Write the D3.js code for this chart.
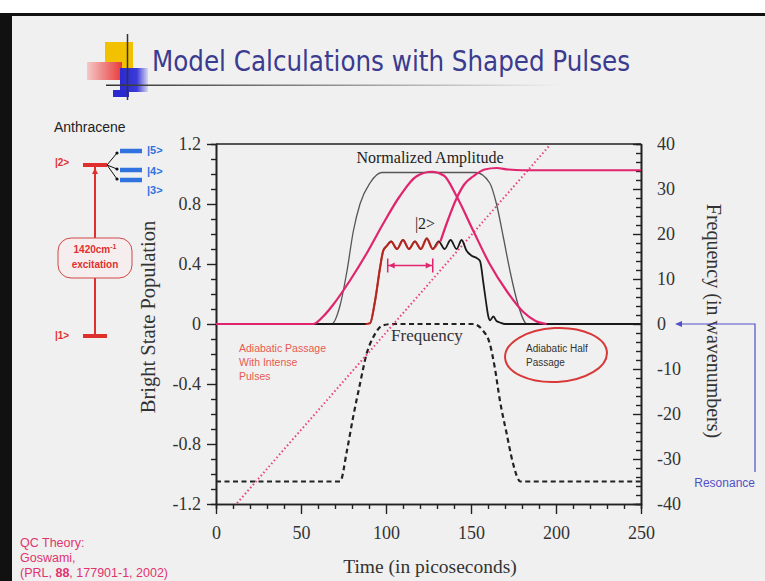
<!DOCTYPE html>
<html>
<head>
<meta charset="utf-8">
<title>Model Calculations with Shaped Pulses</title>
<script src="https://d3js.org/d3.v7.min.js"></script>
<style>
  body { margin: 0; background: #fff; }
  svg text { font-family: 'Liberation Serif', 'Times New Roman', serif; }
  svg .sans { font-family: 'Liberation Sans', Arial, sans-serif; }
</style>
</head>
<body>
<div id="chart"></div>
<script>
// values, time in picoseconds
var amplitude = [[0,0],[68,0],[73,0.125],[77,0.35],[80.8,0.62],[84.7,0.8],[90.6,0.94],[97.5,1.01],
  [153,1.01],[161,0.94],[165,0.8],[169,0.58],[173,0.35],[177.8,0.125],[183,0],[250,0]];

var pulse1 = [[0,0],[57,0],[63,0.05],[69,0.13],[78.8,0.29],[88.6,0.47],[98.4,0.67],[108,0.85],
  [118,0.985],[127,1.015],[134,0.99],[141.6,0.85],[151.4,0.62],[161,0.4],[171,0.22],[180.8,0.08],[188,0.02],[194.5,0]];

var pulse2 = [[132,0.55],[136,0.68],[141.6,0.84],[146,0.93],[151.4,0.985],[158,1.03],[165,1.04],
  [172,1.03],[180,1.025],[250,1.025]];

var population = [[0,0],[88,0],[90.6,0.005],[93.5,0.15],[96.5,0.375],[98.4,0.49],[100.4,0.52],
  [103,0.55],[106.5,0.5],[110,0.56],[113.5,0.5],[117,0.55],[120.5,0.5],[124,0.57],[127.5,0.5],
  [131,0.55],[134.5,0.5],[138,0.56],[141.5,0.5],[144.5,0.56],[147.3,0.49],[150.4,0.455],[153.3,0.44],
  [155.3,0.42],[157.2,0.28],[158.8,0.15],[160.2,0.05],[161.2,0.025],[163.2,0.05],[165,0.02],
  [167,0.01],[170,0],[250,0]];

// frequency in wavenumbers (right axis)
var frequency = [[0,-35],[73,-35],[77,-28.2],[80.6,-20.8],[84.7,-13.3],[88.6,-6.6],[92.4,-3],
  [98.2,-0.3],[104,0],[151,0],[157,-1.45],[161,-4.3],[164,-9.7],[167,-17],[171,-24.4],
  [174.8,-31.1],[179,-35],[250,-35]];

var chirp = [[12.4,-39.8],[196.5,39.8]];

var timeTicks = [0, 50, 100, 150, 200, 250];
var popTicks = [-1.2, -0.8, -0.4, 0, 0.4, 0.8, 1.2];
var freqTicks = [-40, -30, -20, -10, 0, 10, 20, 30, 40];

var W = 765, H = 581;
var svg = d3.select("#chart").append("svg").attr("width", W).attr("height", H);

// slide background and frame
svg.append("rect").attr("width", W).attr("height", H).attr("fill", "#fff");
svg.append("rect").attr("x", 0).attr("y", 15).attr("width", W).attr("height", H - 15).attr("fill", "#f0f0f0");
svg.append("rect").attr("x", 0).attr("y", 13).attr("width", W).attr("height", 3).attr("fill", "#111");
svg.append("rect").attr("x", 0).attr("y", 13).attr("width", 12).attr("height", H - 13).attr("fill", "#111");

// logo
var grad = svg.append("defs");
var rg = grad.append("linearGradient").attr("id", "redg");
rg.append("stop").attr("offset", "0").attr("stop-color", "#f4c8c8");
rg.append("stop").attr("offset", "1").attr("stop-color", "#e83a3a");
var bg = grad.append("linearGradient").attr("id", "blueg");
bg.append("stop").attr("offset", "0").attr("stop-color", "#2a2ad0");
bg.append("stop").attr("offset", "0.6").attr("stop-color", "#3a3ad8");
bg.append("stop").attr("offset", "1").attr("stop-color", "#d8d8f0");
var hg = grad.append("linearGradient").attr("id", "lineg");
hg.append("stop").attr("offset", "0").attr("stop-color", "#333");
hg.append("stop").attr("offset", "1").attr("stop-color", "#f0f0f0");

svg.append("rect").attr("x", 105).attr("y", 42).attr("width", 28).attr("height", 27).attr("fill", "#f2c200");
svg.append("rect").attr("x", 87).attr("y", 62).attr("width", 35).attr("height", 18).attr("fill", "url(#redg)");
svg.append("rect").attr("x", 120).attr("y", 68).attr("width", 28).attr("height", 24).attr("fill", "url(#blueg)");
svg.append("rect").attr("x", 113).attr("y", 90).attr("width", 16).attr("height", 7).attr("fill", "#2a2ad0");
svg.append("line").attr("x1", 127.5).attr("x2", 127.5).attr("y1", 34).attr("y2", 100).attr("stroke", "#333").attr("stroke-width", 1.5);
svg.append("rect").attr("x", 106).attr("y", 84.5).attr("width", 455).attr("height", 1.5).attr("fill", "url(#lineg)");

svg.append("text").attr("class", "sans")
  .attr("x", 152).attr("y", 71)
  .attr("textLength", 478).attr("lengthAdjust", "spacingAndGlyphs")
  .style("font-family", "'Liberation Sans Narrow', 'DejaVu Sans Condensed', 'Liberation Sans', sans-serif")
  .attr("font-size", 28).attr("fill", "#3b3b8f")
  .text("Model Calculations with Shaped Pulses");

// energy level sketch
svg.append("text").attr("class", "sans").attr("x", 54).attr("y", 132)
  .attr("font-size", 14).attr("fill", "#222").text("Anthracene");
var red = "#e0302e", blue = "#2f72e0";
svg.append("line").attr("x1", 95).attr("x2", 95).attr("y1", 166).attr("y2", 336).attr("stroke", red).attr("stroke-width", 2);
svg.append("path").attr("d", "M95,168 l-3,6 l6,0 z").attr("fill", red);
svg.append("line").attr("x1", 83).attr("x2", 107).attr("y1", 165).attr("y2", 165).attr("stroke", red).attr("stroke-width", 4);
svg.append("line").attr("x1", 83).attr("x2", 107).attr("y1", 336).attr("y2", 336).attr("stroke", red).attr("stroke-width", 4);
svg.append("text").attr("class", "sans").attr("x", 55).attr("y", 166).attr("font-size", 10).attr("font-weight", "bold").attr("fill", red).text("|2>");
svg.append("text").attr("class", "sans").attr("x", 55).attr("y", 339).attr("font-size", 10).attr("font-weight", "bold").attr("fill", red).text("|1>");
svg.append("rect").attr("x", 58).attr("y", 238).attr("width", 74).attr("height", 40).attr("rx", 13)
  .attr("fill", "#f6eeee").attr("stroke", "#d04848").attr("stroke-width", 1);
var ex = svg.append("text").attr("class", "sans").attr("x", 95).attr("y", 253).attr("text-anchor", "middle")
  .attr("font-size", 10).attr("font-weight", "bold").attr("fill", red);
ex.append("tspan").text("1420cm");
ex.append("tspan").attr("dy", -4).attr("font-size", 7).text("-1");
svg.append("text").attr("class", "sans").attr("x", 95).attr("y", 268).attr("text-anchor", "middle")
  .attr("font-size", 10).attr("font-weight", "bold").attr("fill", red).text("excitation");

[[151, "|5>", 154], [170, "|4>", 175], [180, "|3>", 194]].forEach(function(l) {
  svg.append("line").attr("x1", 120).attr("x2", 142).attr("y1", l[0]).attr("y2", l[0]).attr("stroke", blue).attr("stroke-width", 4.5);
  svg.append("text").attr("class", "sans").attr("x", 147).attr("y", l[2]).attr("font-size", 11)
    .attr("font-weight", "bold").attr("fill", blue).text(l[1]);
  svg.append("line").attr("x1", 107).attr("y1", 165).attr("x2", 117).attr("y2", l[0] + (l[0] < 165 ? 2 : -1))
    .attr("stroke", "#111").attr("stroke-width", 1);
  svg.append("circle").attr("cx", 117).attr("cy", l[0] + (l[0] < 165 ? 2 : -1)).attr("r", 1.6).attr("fill", "#111");
});

// chart scales
var x = d3.scaleLinear().domain([0, 250]).range([216, 641]);
var yL = d3.scaleLinear().domain([-1.2, 1.2]).range([504, 144]);
var yR = d3.scaleLinear().domain([-40, 40]).range([504, 144]);

var ink = "#222";
var plain = function(d) { return String(d); };

// left axis
var gl = svg.append("g").attr("transform", "translate(216,0)");
gl.call(d3.axisLeft(yL).tickValues(popTicks).tickSize(9).tickPadding(6).tickSizeOuter(0).tickFormat(plain));
gl.append("g").call(d3.axisLeft(yL).tickValues(d3.range(-11, 12).filter(function(k) { return k % 4 !== 0; }).map(function(k) { return k / 10; }))
  .tickSize(5).tickFormat(""));

// right axis
var gr = svg.append("g").attr("transform", "translate(641,0)");
gr.call(d3.axisRight(yR).tickValues(freqTicks).tickSize(-8).tickPadding(16).tickSizeOuter(0).tickFormat(plain));
gr.append("g").call(d3.axisRight(yR).tickValues(d3.range(-38, 40, 2).filter(function(v) { return v % 10 !== 0; }))
  .tickSize(-5).tickFormat(""));

// bottom axis
var gb = svg.append("g").attr("transform", "translate(0,504)");
gb.call(d3.axisBottom(x).tickValues(timeTicks).tickSize(10).tickPadding(12).tickSizeOuter(0).tickFormat(plain));
gb.append("g").call(d3.axisBottom(x).tickValues(d3.range(10, 250, 10).filter(function(v) { return v % 50 !== 0; }))
  .tickSize(5).tickFormat(""));

svg.append("line").attr("x1", 216).attr("x2", 641).attr("y1", 144).attr("y2", 144).attr("stroke", ink).attr("stroke-width", 1.6);

svg.selectAll(".domain").attr("stroke", ink).attr("stroke-width", 1.6);
svg.selectAll(".tick line").attr("stroke", ink).attr("stroke-width", 1.4);
svg.selectAll(".tick text").attr("font-size", 18).attr("fill", "#333")
  .style("font-family", "'Liberation Serif', serif");

// axis titles
svg.append("text").attr("transform", "translate(155,317) rotate(-90)").attr("text-anchor", "middle")
  .attr("font-size", 20.5).attr("fill", "#333").text("Bright State Population");
svg.append("text").attr("transform", "translate(707,321) rotate(90)").attr("text-anchor", "middle")
  .attr("font-size", 20).attr("fill", "#333").text("Frequency (in wavenumbers)");
svg.append("text").attr("x", 430).attr("y", 573).attr("text-anchor", "middle")
  .attr("font-size", 19.5).attr("fill", "#333").text("Time (in picoseconds)");

// curves
var lineL = d3.line().x(function(d) { return x(d[0]); }).y(function(d) { return yL(d[1]); }).curve(d3.curveMonotoneX);
var lineR = d3.line().x(function(d) { return x(d[0]); }).y(function(d) { return yR(d[1]); }).curve(d3.curveMonotoneX);
var magenta = "#e0246e";

svg.append("defs").append("clipPath").attr("id", "plot").append("rect")
  .attr("x", 216).attr("y", 144).attr("width", 425).attr("height", 360);
var plot = svg.append("g").attr("clip-path", "url(#plot)");

plot.append("path").attr("d", lineR(frequency)).attr("fill", "none").attr("stroke", ink)
  .attr("stroke-width", 2.2).attr("stroke-dasharray", "5,3.5");
plot.append("path").attr("d", lineR(chirp)).attr("fill", "none").attr("stroke", "#e8407e")
  .attr("stroke-width", 2).attr("stroke-dasharray", "1.5,2.5");
plot.append("path").attr("d", lineL(amplitude)).attr("fill", "none").attr("stroke", "#555").attr("stroke-width", 1.3);
plot.append("path").attr("d", lineL(population)).attr("fill", "none").attr("stroke", "#1a1a1a").attr("stroke-width", 1.8);
plot.append("path").attr("d", lineL(population.filter(function(d) { return d[0] >= 86 && d[0] <= 134; })))
  .attr("fill", "none").attr("stroke", "#e8281e").attr("stroke-width", 2.2).attr("opacity", 0.75);
plot.append("path").attr("d", lineL(pulse1)).attr("fill", "none").attr("stroke", magenta).attr("stroke-width", 2.2);
plot.append("path").attr("d", lineL(pulse2)).attr("fill", "none").attr("stroke", magenta).attr("stroke-width", 2.2);

// in-plot labels
svg.append("text").attr("x", 430).attr("y", 163).attr("text-anchor", "middle").attr("font-size", 16)
  .attr("fill", "#222").text("Normalized Amplitude");
svg.append("text").attr("x", 425).attr("y", 229).attr("text-anchor", "middle").attr("font-size", 16)
  .attr("fill", "#222").text("|2>");
svg.append("text").attr("x", 427).attr("y", 341).attr("text-anchor", "middle").attr("font-size", 17)
  .attr("fill", "#333").text("Frequency");

// width marker on the |2> plateau
var ax1 = x(101), ax2 = x(127.5), ay = yL(0.39);
svg.append("line").attr("x1", ax1).attr("x2", ax2).attr("y1", ay).attr("y2", ay).attr("stroke", magenta).attr("stroke-width", 1.5);
[ax1, ax2].forEach(function(px) {
  svg.append("line").attr("x1", px).attr("x2", px).attr("y1", ay - 7).attr("y2", ay + 7).attr("stroke", magenta).attr("stroke-width", 1.5);
});
svg.append("path").attr("d", "M" + (ax1 + 1) + "," + ay + " l6,-3 l0,6 z").attr("fill", magenta);
svg.append("path").attr("d", "M" + (ax2 - 1) + "," + ay + " l-6,-3 l0,6 z").attr("fill", magenta);

// annotations
["Adiabatic Passage", "With Intense", "Pulses"].forEach(function(t, i) {
  svg.append("text").attr("class", "sans").attr("x", 239).attr("y", 352 + i * 14)
    .attr("font-size", 10.5).attr("fill", "#e85a50").text(t);
});
svg.append("ellipse").attr("cx", 556).attr("cy", 355).attr("rx", 51).attr("ry", 27)
  .attr("transform", "rotate(-3,556,355)")
  .attr("fill", "none").attr("stroke", "#d83838").attr("stroke-width", 2);
["Adiabatic Half", "Passage"].forEach(function(t, i) {
  svg.append("text").attr("class", "sans").attr("x", 526).attr("y", 352 + i * 14)
    .attr("font-size", 10).attr("fill", "#333").text(t);
});

// resonance pointer
var rc = "#5050c8";
svg.append("polyline").attr("points", "680," + yR(0) + " 755," + yR(0) + " 755,472")
  .attr("fill", "none").attr("stroke", rc).attr("stroke-width", 1.2);
svg.append("path").attr("d", "M675," + yR(0) + " l7,-3 l0,6 z").attr("fill", rc);
svg.append("text").attr("class", "sans").attr("x", 755).attr("y", 487).attr("text-anchor", "end")
  .attr("font-size", 12).attr("fill", rc).text("Resonance");

// reference note
var pink = "#e0346e";
svg.append("text").attr("class", "sans").attr("x", 20).attr("y", 547).attr("font-size", 12.5).attr("fill", pink).text("QC Theory:");
svg.append("text").attr("class", "sans").attr("x", 20).attr("y", 562).attr("font-size", 12.5).attr("fill", pink).text("Goswami,");
var ref = svg.append("text").attr("class", "sans").attr("x", 20).attr("y", 577).attr("font-size", 12.5).attr("fill", pink);
ref.append("tspan").text("(PRL, ");
ref.append("tspan").attr("font-weight", "bold").text("88");
ref.append("tspan").text(", 177901-1, 2002)");
</script>
</body>
</html>
